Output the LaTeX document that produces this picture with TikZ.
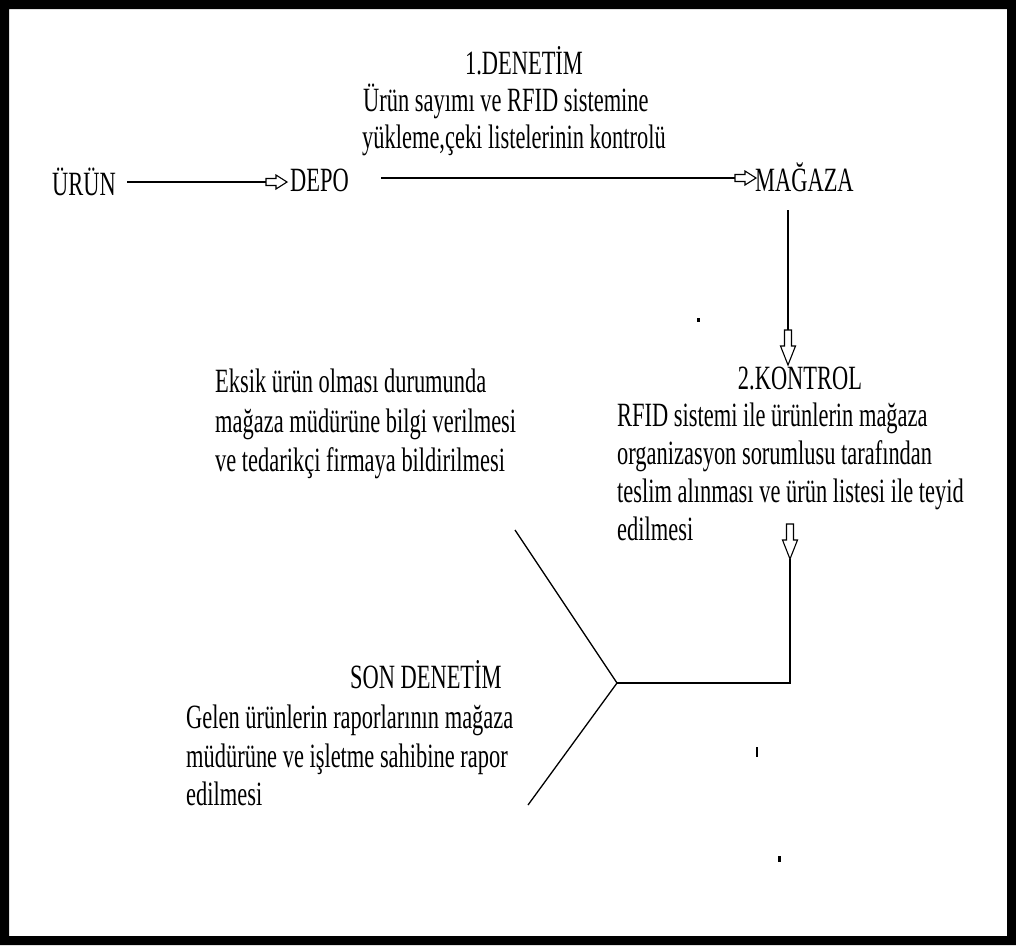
\documentclass[tikz,border=0pt]{standalone}
\usepackage{fontspec}
\setmainfont{Liberation Serif}[FakeStretch=0.66]
\begin{document}
\begin{tikzpicture}[x=1pt,y=-1pt,
  txt/.style={anchor=base west, inner sep=0pt, font=\fontsize{34}{40}\selectfont},
  txtc/.style={anchor=base, inner sep=0pt, font=\fontsize{34}{40}\selectfont},
  conn/.style={line width=1.3pt, draw=black},
  rblk/.pic={\draw[line width=1.1pt, fill=white] (0,-3.5) -- (10,-3.5) -- (10,-7) -- (21,0) -- (10,7) -- (10,3.5) -- (0,3.5) -- cycle;},
  dblk/.pic={\draw[line width=1.1pt, fill=white] (-3.5,0) -- (-3.5,16) -- (-7.5,16) -- (0,35) -- (7.5,16) -- (3.5,16) -- (3.5,0) -- cycle;}
]
\useasboundingbox (0,0) rectangle (1016,945);
% frame
\fill[black, even odd rule] (0,0) rectangle (1016,945) (9,9) rectangle (1007,936);

% top block
\node[txtc] (den1) at (524,74) {1.DENETİM};
\node[txt] (den1a) at (363,111) {Ürün sayımı ve RFID sistemine};
\node[txt] (den1b) at (362,148) {yükleme,çeki listelerinin kontrolü};

% main row
\node[txt] (urun) at (52,195) {ÜRÜN};
\node[txt] (depo) at (290,191) {DEPO};
\node[txt] (magaza) at (755,191) {MAĞAZA};

% control block
\node[txtc] (kon) at (800,389) {2.KONTROL};
\node[txt] (kona) at (617,426) {RFID sistemi ile ürünlerin mağaza};
\node[txt] (konb) at (617,464) {organizasyon sorumlusu tarafından};
\node[txt] (konc) at (617,502) {teslim alınması ve ürün listesi ile teyid};
\node[txt] (kond) at (617,540) {edilmesi};

% eksik block
\node[txt] (eka) at (215,392) {Eksik ürün olması durumunda};
\node[txt] (ekb) at (215,432) {mağaza müdürüne bilgi verilmesi};
\node[txt] (ekc) at (215,471) {ve tedarikçi firmaya bildirilmesi};

% son denetim block
\node[txt] (son) at (350,688) {SON DENETİM};
\node[txt] (sona) at (186,728) {Gelen ürünlerin raporlarının mağaza};
\node[txt] (sonb) at (186,767) {müdürüne ve işletme sahibine rapor};
\node[txt] (sonc) at (186,805) {edilmesi};

% connector coordinates
\coordinate (u1) at (127,182);
\coordinate (u2) at (266,182);
\coordinate (d1) at (381,178);
\coordinate (d2) at (735,178);
\coordinate (m1) at (788,210);
\coordinate (m2) at (788,330);
\coordinate (k1) at (790,524);
\coordinate (k2) at (790,559);
\coordinate (j0) at (790,683);
\coordinate (j) at (617,683);
\coordinate (ue) at (515,530);
\coordinate (le) at (528,805);

\draw[conn] (u1) -- (u2);
\pic at (u2) {rblk};
\draw[conn] (d1) -- (d2);
\pic at (d2) {rblk};
\draw[conn] (m1) -- (m2);
\pic at (m2) {dblk};
\pic at (k1) {dblk};
\draw[conn] (k2) -- (j0) -- (j);
\draw[conn] (j) -- (ue);
\draw[conn] (j) -- (le);

% small specks
\fill (697,318) rectangle (700,322);
\fill (756,747) rectangle (758,757);
\fill (778,856) rectangle (781,862);
\end{tikzpicture}
\end{document}
